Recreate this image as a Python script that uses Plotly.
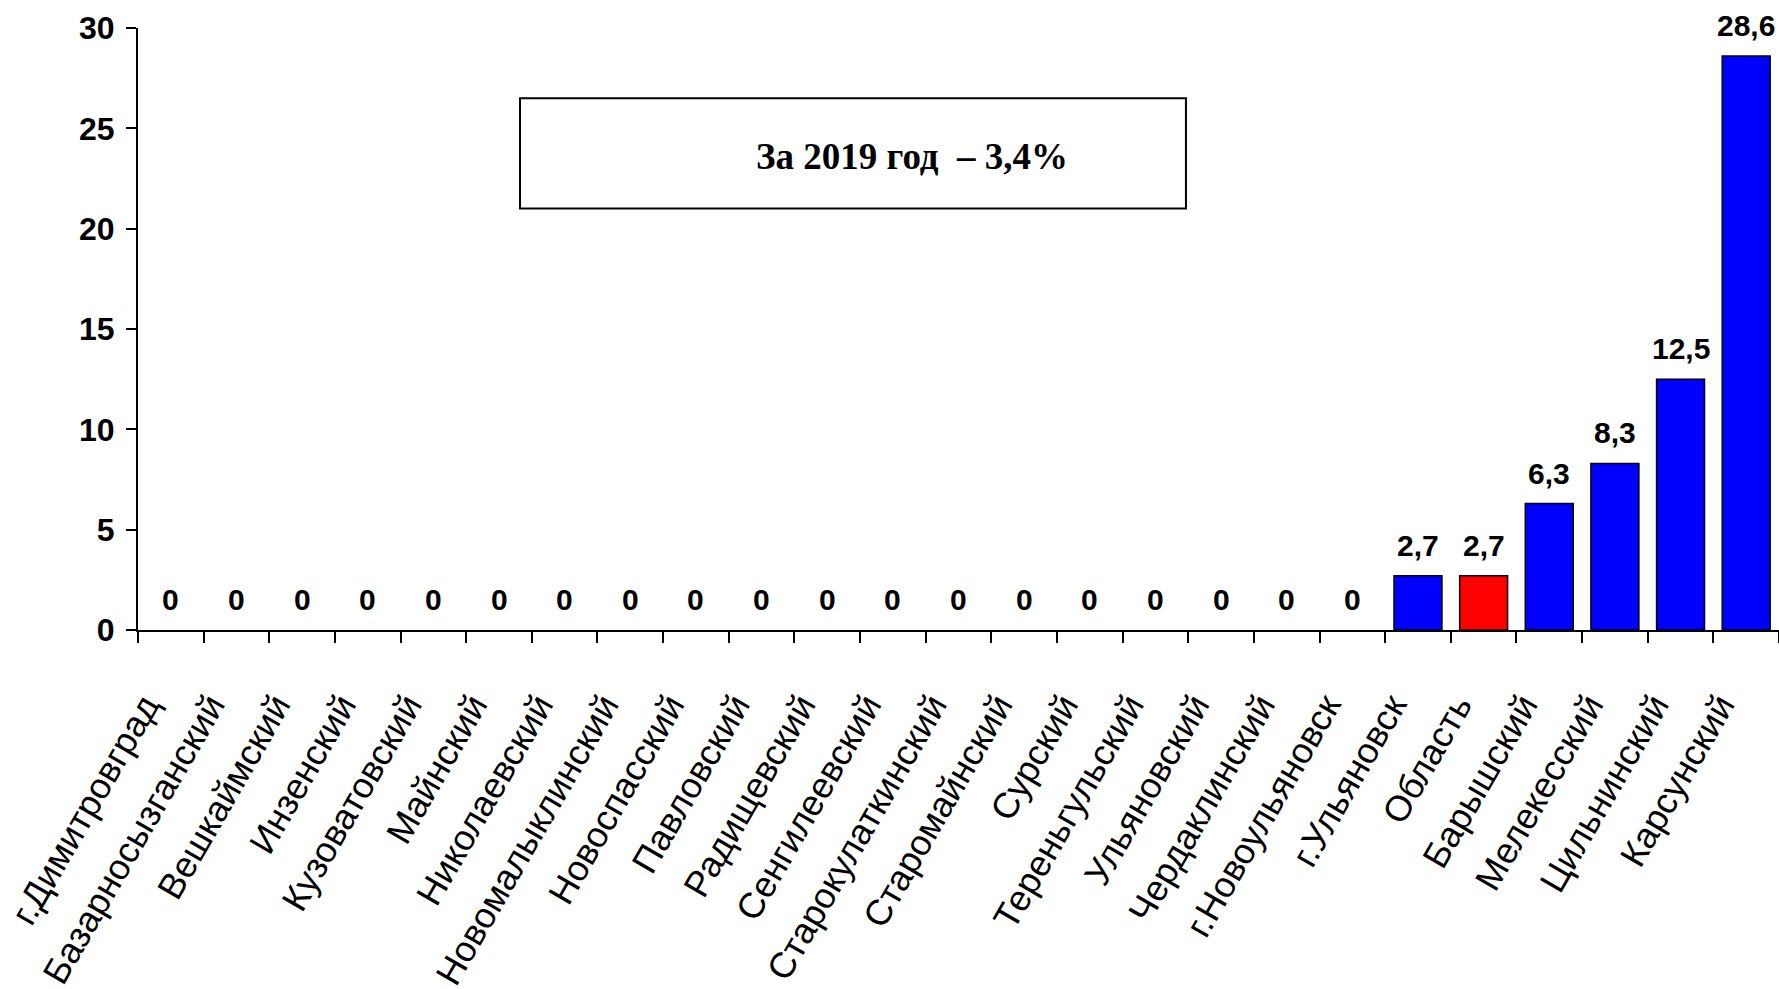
import plotly.graph_objects as go

# Districts of the region and their values, 2019
districts = [
    "г.Димитровград", "Базарносызганский", "Вешкаймский", "Инзенский",
    "Кузоватовский", "Майнский", "Николаевский", "Новомалыклинский",
    "Новоспасский", "Павловский", "Радищевский", "Сенгилеевский",
    "Старокулаткинский", "Старомайнский", "Сурский", "Тереньгульский",
    "Ульяновский", "Чердаклинский", "г.Новоульяновск", "г.Ульяновск",
    "Область", "Барышский", "Мелекесский", "Цильнинский", "Карсунский",
]
values = [0, 0, 0, 0, 0, 0, 0, 0, 0, 0, 0, 0, 0, 0, 0, 0, 0, 0, 0,
          2.7, 2.7, 6.3, 8.3, 12.5, 28.6]
highlight = "Область"
y_ticks = [0, 5, 10, 15, 20, 25, 30]
note_text = "За 2019 год  – 3,4%"

colors = ["#FF0000" if d == highlight else "#0000FF" for d in districts]
outline = [1.5 if v > 0 else 0 for v in values]


def fmt(v):
    s = f"{v:g}"
    return s.replace(".", ",")


fig = go.Figure()
fig.add_trace(go.Bar(
    x=districts,
    y=values,
    marker=dict(color=colors, line=dict(color="#000000", width=outline)),
    hoverinfo="x+y",
))

# value labels above each bar
for d, v in zip(districts, values):
    fig.add_annotation(
        x=d, y=v, text=fmt(v), showarrow=False,
        xref="x", yref="y", yanchor="bottom", yshift=12,
        font=dict(family="Liberation Sans", size=30, color="#000000", weight="bold"),
    )

# framed note
fig.add_shape(
    type="rect", xref="paper", yref="y",
    x0=0.2328, x1=0.6386, y0=21.0, y1=26.5,
    line=dict(color="#000000", width=2), fillcolor="rgba(0,0,0,0)",
)
fig.add_annotation(
    xref="paper", yref="y", x=0.4715, y=23.6, text=note_text,
    showarrow=False, xanchor="center", yanchor="middle",
    font=dict(family="Liberation Serif", size=37, color="#000000", weight="bold"),
)

fig.update_layout(
    width=1779, height=989,
    margin=dict(l=138, r=0, t=28, b=359),
    paper_bgcolor="#FFFFFF", plot_bgcolor="#FFFFFF",
    showlegend=False,
    bargap=0.27,
)
fig.update_xaxes(
    type="category",
    showline=True, linecolor="#000000", linewidth=2,
    ticks="outside", tickson="boundaries", ticklen=11, tickwidth=1.5, tickcolor="#000000",
    tickangle=-60,
    ticklabelstandoff=38, ticklabelshift=-26,
    tickfont=dict(family="Liberation Sans", size=36, color="#000000"),
    showgrid=False, zeroline=False, automargin=False,
)
fig.update_yaxes(
    range=[0, 30], tickvals=y_ticks,
    showline=True, linecolor="#000000", linewidth=2,
    ticks="outside", ticklen=10, tickwidth=1.5, tickcolor="#000000",
    ticklabelstandoff=5,
    tickfont=dict(family="Liberation Sans", size=32, color="#000000", weight="bold"),
    showgrid=False, zeroline=False, automargin=False,
)

fig.write_html("out.html")
